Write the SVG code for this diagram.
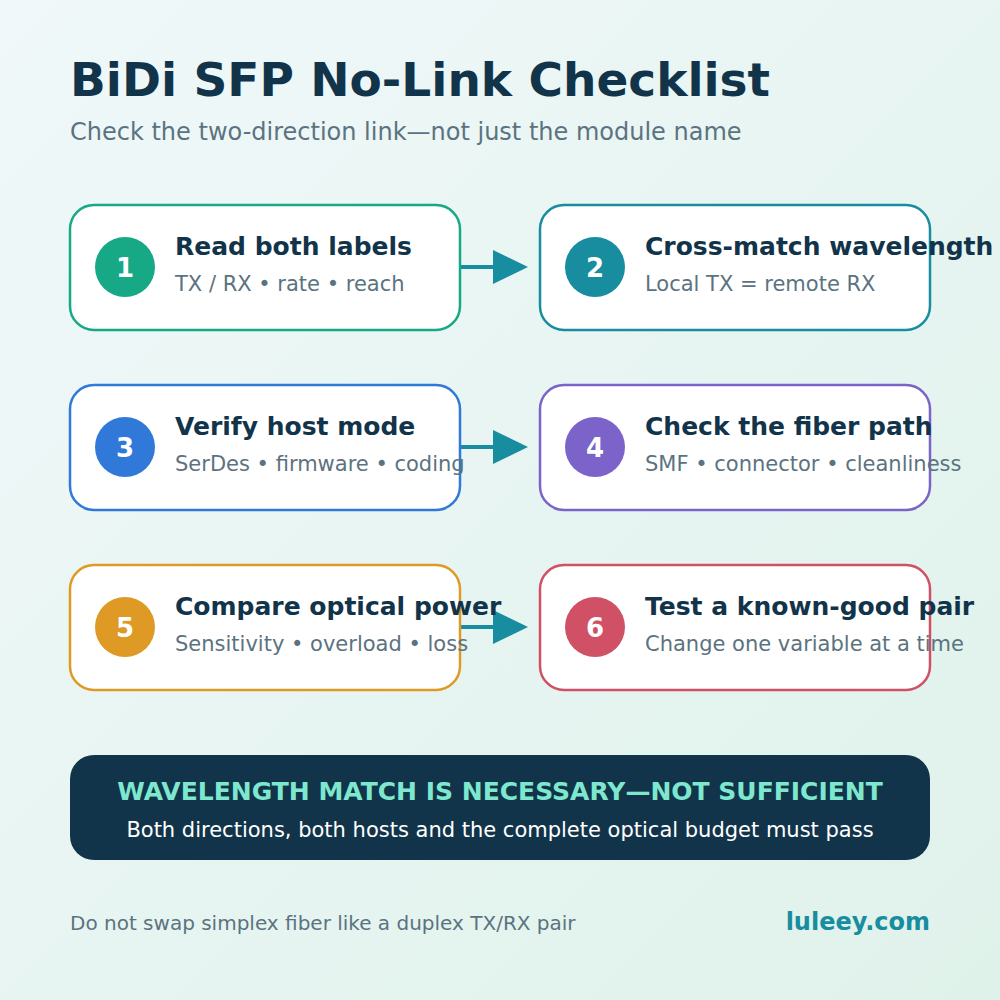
<svg xmlns="http://www.w3.org/2000/svg" width="1000" height="1000" viewBox="0 0 1000 1000">
<defs>
<linearGradient id="bg" x1="0" y1="0" x2="1" y2="1"><stop offset="0" stop-color="#f0f8fa"/><stop offset="1" stop-color="#dff2ea"/></linearGradient>
<marker id="ah" markerWidth="36" markerHeight="36" refX="0" refY="17" orient="auto" markerUnits="userSpaceOnUse"><path d="M0,0 L35,17 L0,34 Z" fill="#178d9f"/></marker>
</defs>
<style>
text{font-family:"DejaVu Sans",sans-serif}
.card{fill:#fff;stroke-width:2.5}
.t{font-size:25px;font-weight:bold;fill:#12344a}
.s{font-size:21px;fill:#5b7380}
.n{font-size:26px;font-weight:bold;fill:#fff;text-anchor:middle}
.c{stroke:#178d9f;stroke-width:4;fill:none}
</style>
<rect width="1000" height="1000" fill="url(#bg)"/>
<text x="70" y="96" font-size="47" font-weight="bold" fill="#12344a">BiDi SFP No-Link Checklist</text>
<text x="70" y="140" font-size="24" fill="#5b7380">Check the two-direction link—not just the module name</text>
<g id="connectors">
<path class="c" d="M460,267 H493" marker-end="url(#ah)"/>
<path class="c" d="M460,447 H493" marker-end="url(#ah)"/>
<path class="c" d="M460,627 H493" marker-end="url(#ah)"/>
</g>
<g id="n1"><rect class="card" x="70" y="205" width="390" height="125" rx="24" stroke="#17a886"/><circle cx="125" cy="267" r="30" fill="#17a886"/><text class="n" x="125" y="277">1</text><text class="t" x="175" y="255">Read both labels</text><text class="s" x="175" y="291">TX / RX • rate • reach</text></g>
<g id="n2"><rect class="card" x="540" y="205" width="390" height="125" rx="24" stroke="#178d9f"/><circle cx="595" cy="267" r="30" fill="#178d9f"/><text class="n" x="595" y="277">2</text><text class="t" x="645" y="255">Cross-match wavelength</text><text class="s" x="645" y="291">Local TX = remote RX</text></g>
<g id="n3"><rect class="card" x="70" y="385" width="390" height="125" rx="24" stroke="#3079d8"/><circle cx="125" cy="447" r="30" fill="#3079d8"/><text class="n" x="125" y="457">3</text><text class="t" x="175" y="435">Verify host mode</text><text class="s" x="175" y="471">SerDes • firmware • coding</text></g>
<g id="n4"><rect class="card" x="540" y="385" width="390" height="125" rx="24" stroke="#7c63c9"/><circle cx="595" cy="447" r="30" fill="#7c63c9"/><text class="n" x="595" y="457">4</text><text class="t" x="645" y="435">Check the fiber path</text><text class="s" x="645" y="471">SMF • connector • cleanliness</text></g>
<g id="n5"><rect class="card" x="70" y="565" width="390" height="125" rx="24" stroke="#de9a24"/><circle cx="125" cy="627" r="30" fill="#de9a24"/><text class="n" x="125" y="637">5</text><text class="t" x="175" y="615">Compare optical power</text><text class="s" x="175" y="651">Sensitivity • overload • loss</text></g>
<g id="n6"><rect class="card" x="540" y="565" width="390" height="125" rx="24" stroke="#d05065"/><circle cx="595" cy="627" r="30" fill="#d05065"/><text class="n" x="595" y="637">6</text><text class="t" x="645" y="615">Test a known-good pair</text><text class="s" x="645" y="651">Change one variable at a time</text></g>
<g id="banner"><rect x="70" y="755" width="860" height="105" rx="24" fill="#12344a"/><text x="500" y="800" font-size="25" font-weight="bold" fill="#7ee8cf" text-anchor="middle">WAVELENGTH MATCH IS NECESSARY—NOT SUFFICIENT</text><text x="500" y="837" font-size="21" fill="#fff" text-anchor="middle">Both directions, both hosts and the complete optical budget must pass</text></g>
<text x="70" y="930" font-size="20" fill="#5b7380">Do not swap simplex fiber like a duplex TX/RX pair</text>
<text x="930" y="930" font-size="24" font-weight="bold" fill="#178d9f" text-anchor="end">luleey.com</text>
</svg>
